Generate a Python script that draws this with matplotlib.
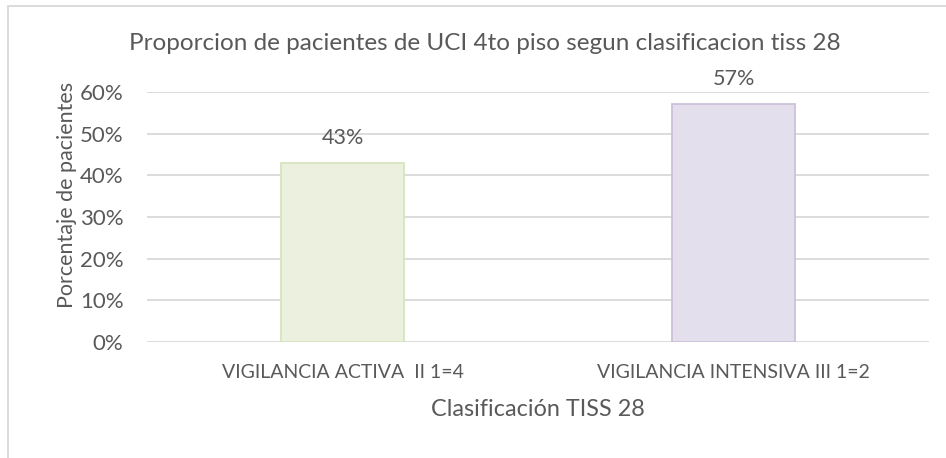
import numpy as np
from matplotlib import pyplot as plt
from matplotlib.patches import Rectangle

plt.rcParams['font.family'] = ['Lato', 'DejaVu Sans']

# datos
categorias = ['VIGILANCIA ACTIVA  II 1=4', 'VIGILANCIA INTENSIVA III 1=2']
proporcion = [3 / 7, 4 / 7]
etiquetas = ['43%', '57%']
y_ticks = [0, 0.1, 0.2, 0.3, 0.4, 0.5, 0.6]

relleno = ['#EBF1DE', '#E4DFEC']
borde = ['#D7E4BD', '#CCC0DA']
gris = '#595959'

W, H = 946, 458
fig = plt.figure(figsize=(W / 100, H / 100), dpi=100)
ax = fig.add_axes([147 / W, 1 - 342 / H, (929 - 147) / W, (342 - 92) / H])

x = np.arange(len(categorias))
ax.bar(x, proporcion, width=0.315, color=relleno, edgecolor=borde, linewidth=1.3, zorder=3)
for xi, v, t in zip(x, proporcion, etiquetas):
    ax.annotate(t, (xi, v), xytext=(0, 18), textcoords='offset points',
                ha='center', va='center', fontsize=15.5, color=gris)

ax.set_xlim(-0.5, 1.5)
ax.set_ylim(0, 0.6)
ax.set_yticks(y_ticks)
ax.set_yticklabels(['%d%%' % round(t * 100) for t in y_ticks])
ax.set_xticks(x)
ax.set_xticklabels(categorias)
ax.tick_params(axis='both', length=0, colors=gris)
ax.tick_params(axis='y', pad=17, labelsize=16)
ax.tick_params(axis='x', pad=16, labelsize=14)
ax.grid(axis='y', color='#D9D9D9', linewidth=1.3, zorder=0)
for s in ax.spines.values():
    s.set_visible(False)

ax.set_xlabel('Clasificación TISS 28', fontsize=16.8, color=gris, labelpad=13)
fig.text(67 / W, 1 - 195 / H, 'Porcentaje de pacientes', rotation=90,
         ha='center', va='center', fontsize=15.5, color=gris)
fig.text(485 / W, 1 - 43 / H, 'Proporcion de pacientes de UCI 4to piso segun clasificacion tiss 28',
         ha='center', va='center', fontsize=17.5, color=gris)

# marco del area del grafico
fig.patches.append(Rectangle((8 / W, -0.1), 1.2, 1 - 6 / H + 0.1, transform=fig.transFigure,
                             fill=False, edgecolor='#D9D9D9', linewidth=1.3))

fig.savefig('out.png', dpi=100)
